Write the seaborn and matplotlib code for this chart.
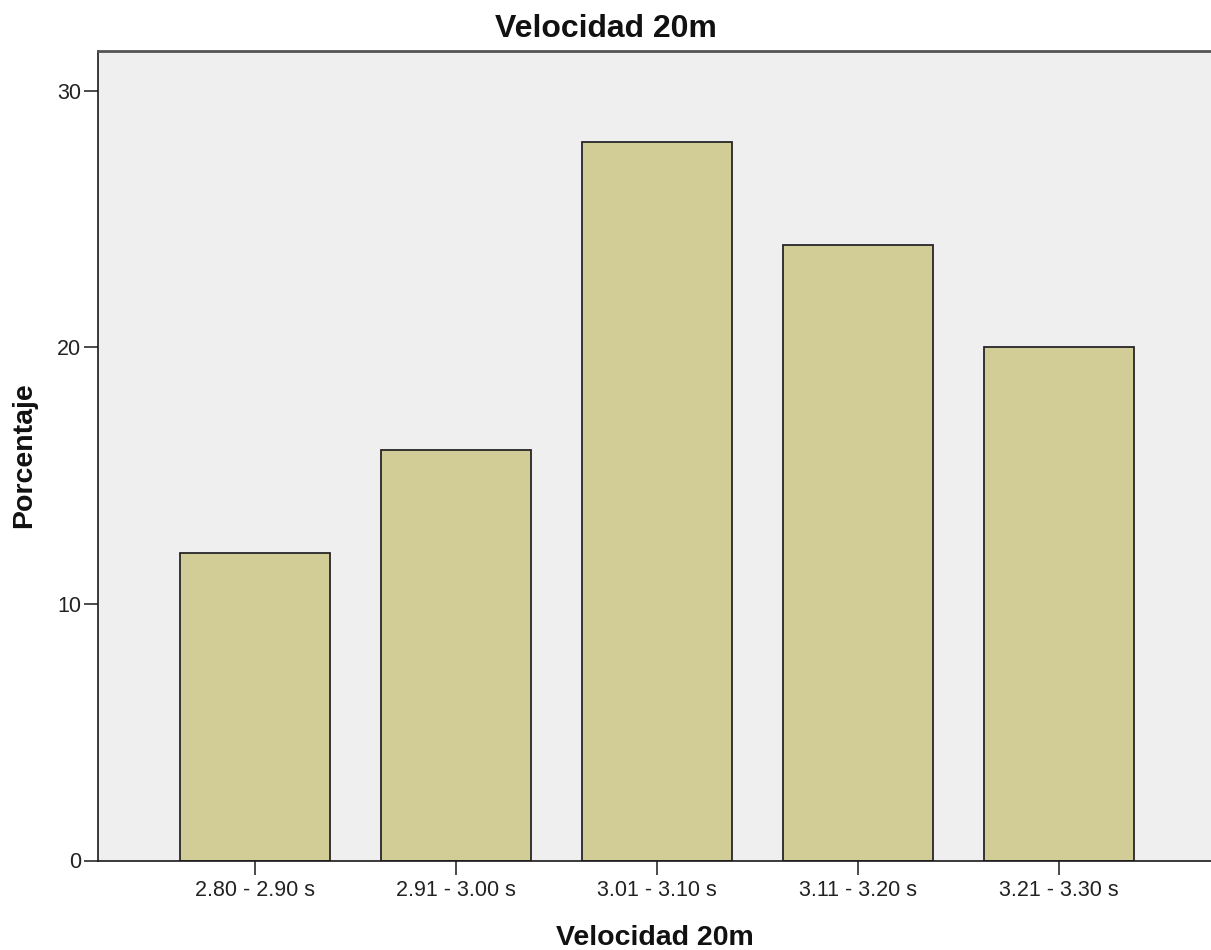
import matplotlib
matplotlib.use("Agg")
import matplotlib.pyplot as plt
import seaborn as sns
import pandas as pd

categories = ["2.80 - 2.90 s", "2.91 - 3.00 s", "3.01 - 3.10 s", "3.11 - 3.20 s", "3.21 - 3.30 s"]
percentages = [12, 16, 28, 24, 20]
yticks = [0, 10, 20, 30]
title = "Velocidad 20m"
xlabel = "Velocidad 20m"
ylabel = "Porcentaje"

sns.set_style("white")
plt.rcParams["font.family"] = ["Liberation Sans", "DejaVu Sans"]

df = pd.DataFrame({"cat": categories, "pct": percentages})

W, H = 1211, 950
fig = plt.figure(figsize=(W / 100, H / 100), dpi=100)
ax = fig.add_axes([98 / W, 1 - 860.5 / H, 1 - 98 / W, (860.5 - 50.5) / H])
ax.set_facecolor("#EFEFEF")

sns.barplot(data=df, x="cat", y="pct", order=categories, color="#D2CD96",
            saturation=1, width=0.75, edgecolor="#262626", linewidth=1.3, ax=ax)

ax.set_xlim(-0.781, 4.756)
ax.set_ylim(0, 31.57)
ax.set_yticks(yticks)
ax.set_yticklabels([str(t) for t in yticks])
ax.set_xlabel("")
ax.set_ylabel("")

for s in ["left", "bottom", "top"]:
    ax.spines[s].set_visible(True)
    ax.spines[s].set_color("#1a1a1a")
    ax.spines[s].set_linewidth(1.2)
ax.spines["top"].set_color("#555555")
ax.spines["top"].set_linewidth(2.0)
ax.spines["right"].set_visible(False)

ax.tick_params(axis="both", direction="out", length=10, width=1.1, color="#1a1a1a",
               labelsize=15.5, labelcolor="#222222", pad=2)
ax.tick_params(axis="x", bottom=True, pad=4)
ax.tick_params(axis="y", left=True)

fig.text(606 / W, 1 - 37 / H, title, ha="center", va="baseline",
         fontsize=23, fontweight="bold", color="#111111")
fig.text(655 / W, 1 - 945 / H, xlabel, ha="center", va="baseline",
         fontsize=20.5, fontweight="bold", color="#111111")
fig.text(24 / W, 1 - 455 / H, ylabel, ha="center", va="center", rotation=90,
         fontsize=20.5, fontweight="bold", color="#111111")

fig.savefig("out.png", dpi=100)
